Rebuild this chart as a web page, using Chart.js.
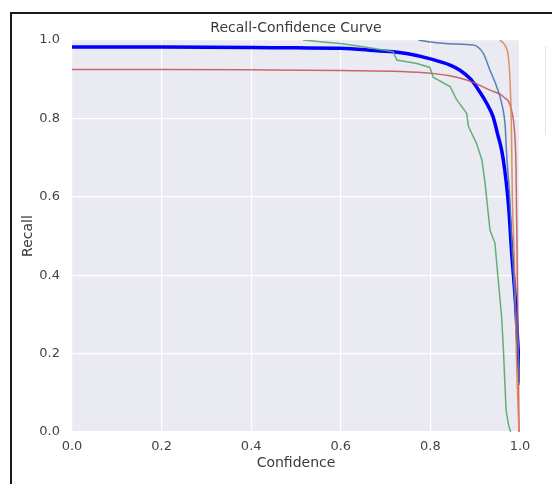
<!DOCTYPE html>
<html>
<head>
<meta charset="utf-8">
<title>Recall-Confidence Curve</title>
<script src="https://cdn.jsdelivr.net/npm/chart.js@4.4.1/dist/chart.umd.min.js"></script>
<style>
    html, body { margin: 0; padding: 0; background: #fff; }
    #wrap { position: relative; width: 552px; height: 484px; overflow: hidden; }
    #chart { position: absolute; left: 0; top: 0; }
    #frame {
        position: absolute; left: 10px; top: 12px; width: 540px; height: 500px;
        border-left: 2px solid #1a1a1a; border-top: 2px solid #1a1a1a; border-right: 1px solid #c8c8c8;
    }
    #legendEdge { position: absolute; left: 545px; top: 46px; width: 0; height: 89px; border-left: 1px solid #e2e2e2; }
</style>
</head>
<body>
<div id="wrap">
    <canvas id="chart" width="552" height="484"></canvas>
    <div id="frame"></div>
    <div id="legendEdge"></div>
</div>
<script>
"use strict";

// Tick labels for both axes
var tickValues = [0.0, 0.2, 0.4, 0.6, 0.8, 1.0];

// Class 0 (steel blue)
var class0Conf = [0.773, 0.80, 0.85, 0.896, 0.918, 0.933, 0.948, 0.959, 0.967, 0.970, 0.977, 0.981, 0.988, 0.995, 1.0];
var class0Recall = [1.0, 0.995, 0.99, 0.987, 0.966, 0.923, 0.881, 0.839, 0.779, 0.711, 0.60, 0.50, 0.35, 0.23, 0.12];

// Class 1 (orange)
var class1Conf = [0.955, 0.966, 0.974, 0.978, 0.981, 0.983, 0.987, 0.990, 0.993, 0.996, 0.998];
var class1Recall = [1.0, 0.987, 0.957, 0.89, 0.763, 0.592, 0.45, 0.30, 0.15, 0.05, 0.0];

// Class 2 (green)
var class2Conf = [0.516, 0.56, 0.598, 0.65, 0.717, 0.725, 0.77, 0.799, 0.806, 0.844, 0.859, 0.881, 0.885, 0.903, 0.915, 0.922, 0.933, 0.944, 0.952, 0.959, 0.963, 0.966, 0.969, 0.974, 0.979];
var class2Recall = [1.0, 0.995, 0.991, 0.983, 0.970, 0.949, 0.940, 0.930, 0.905, 0.881, 0.847, 0.813, 0.779, 0.736, 0.694, 0.635, 0.515, 0.482, 0.380, 0.294, 0.209, 0.13, 0.056, 0.02, 0.0];

// Class 3 (red)
var class3Conf = [0.0, 0.2, 0.4, 0.6, 0.8, 0.881, 0.933, 0.963, 0.981, 0.988, 0.991, 0.993, 0.995, 0.997, 0.998];
var class3Recall = [0.925, 0.925, 0.924, 0.922, 0.915, 0.898, 0.872, 0.855, 0.821, 0.763, 0.68, 0.50, 0.30, 0.10, 0.0];

// All classes (thick blue)
var allConf = [0.0, 0.2, 0.4, 0.5, 0.6, 0.6875, 0.717, 0.75, 0.80, 0.844, 0.866, 0.89, 0.91, 0.925, 0.94, 0.95, 0.959, 0.966, 0.975, 0.981, 0.99, 0.996, 1.0];
var allRecall = [0.982, 0.982, 0.981, 0.980, 0.979, 0.972, 0.970, 0.965, 0.952, 0.936, 0.923, 0.90, 0.868, 0.84, 0.804, 0.76, 0.719, 0.668, 0.57, 0.464, 0.33, 0.209, 0.128];

// Helper to zip x and y arrays into points:
var toPoints = function toPoints(xs, ys) {
    return xs.map(function (x, i) {
        return { x: x, y: ys[i] };
    });
};

var curve = function curve(xs, ys, color, width, smooth) {
    var ds = {
        data: toPoints(xs, ys),
        borderColor: color,
        borderWidth: width,
        showLine: true,
        pointRadius: 0,
        tension: 0
    };
    if (smooth) {
        ds.cubicInterpolationMode = 'monotone';
    }
    return ds;
};

// Paint the seaborn-style plot background:
var plotBackground = {
    id: 'plotBackground',
    beforeDraw: function (chart) {
        var a = chart.chartArea;
        var ctx = chart.ctx;
        ctx.save();
        ctx.fillStyle = '#eaeaf2';
        ctx.fillRect(a.left, a.top, a.right - a.left, a.bottom - a.top);
        ctx.restore();
    }
};

var textColor = '#3a3a3a';

new Chart(document.getElementById('chart').getContext('2d'), {
    type: 'scatter',
    data: {
        datasets: [
            curve(class0Conf, class0Recall, 'rgba(76, 114, 176, 0.9)', 1.5, true),
            curve(class1Conf, class1Recall, 'rgba(221, 132, 82, 0.9)', 1.5, true),
            curve(class2Conf, class2Recall, 'rgba(85, 168, 104, 0.9)', 1.5, false),
            curve(class3Conf, class3Recall, 'rgba(196, 78, 82, 0.85)', 1.5, true),
            curve(allConf, allRecall, '#0000ff', 3.5, true)
        ]
    },
    options: {
        responsive: false,
        animation: false,
        devicePixelRatio: 1,
        layout: { padding: { left: 0, right: 32, top: 0, bottom: 0 } },
        plugins: {
            legend: { display: false },
            tooltip: { enabled: false },
            title: {
                display: true,
                text: 'Recall-Confidence Curve',
                fullSize: false,
                color: textColor,
                font: { family: 'DejaVu Sans', size: 14, weight: 'normal' },
                padding: { top: 19.6, bottom: 3.6 }
            }
        },
        scales: {
            x: {
                type: 'linear',
                min: 0,
                max: 1,
                afterFit: function (scale) { scale.height = 52; },
                afterBuildTicks: function (scale) {
                    scale.ticks = tickValues.map(function (v) { return { value: v }; });
                },
                grid: { color: '#ffffff', lineWidth: 1.2, drawTicks: false },
                border: { display: false },
                ticks: {
                    padding: 7,
                    color: '#444',
                    font: { family: 'DejaVu Sans', size: 13 },
                    callback: function (v) { return v.toFixed(1); }
                },
                title: {
                    display: true,
                    text: 'Confidence',
                    color: textColor,
                    font: { family: 'DejaVu Sans', size: 14 },
                    padding: { top: 0, bottom: 12.6 }
                }
            },
            y: {
                type: 'linear',
                min: 0,
                max: 1,
                afterFit: function (scale) { scale.width = 72; },
                afterBuildTicks: function (scale) {
                    scale.ticks = tickValues.map(function (v) { return { value: v }; });
                },
                grid: { color: '#ffffff', lineWidth: 1.2, drawTicks: false },
                border: { display: false },
                ticks: {
                    padding: 12,
                    color: '#444',
                    font: { family: 'DejaVu Sans', size: 13 },
                    callback: function (v) { return v.toFixed(1); }
                },
                title: {
                    display: true,
                    text: 'Recall',
                    color: textColor,
                    font: { family: 'DejaVu Sans', size: 14 },
                    padding: { top: 19.6, bottom: 0 }
                }
            }
        }
    },
    plugins: [plotBackground]
});
</script>
</body>
</html>
